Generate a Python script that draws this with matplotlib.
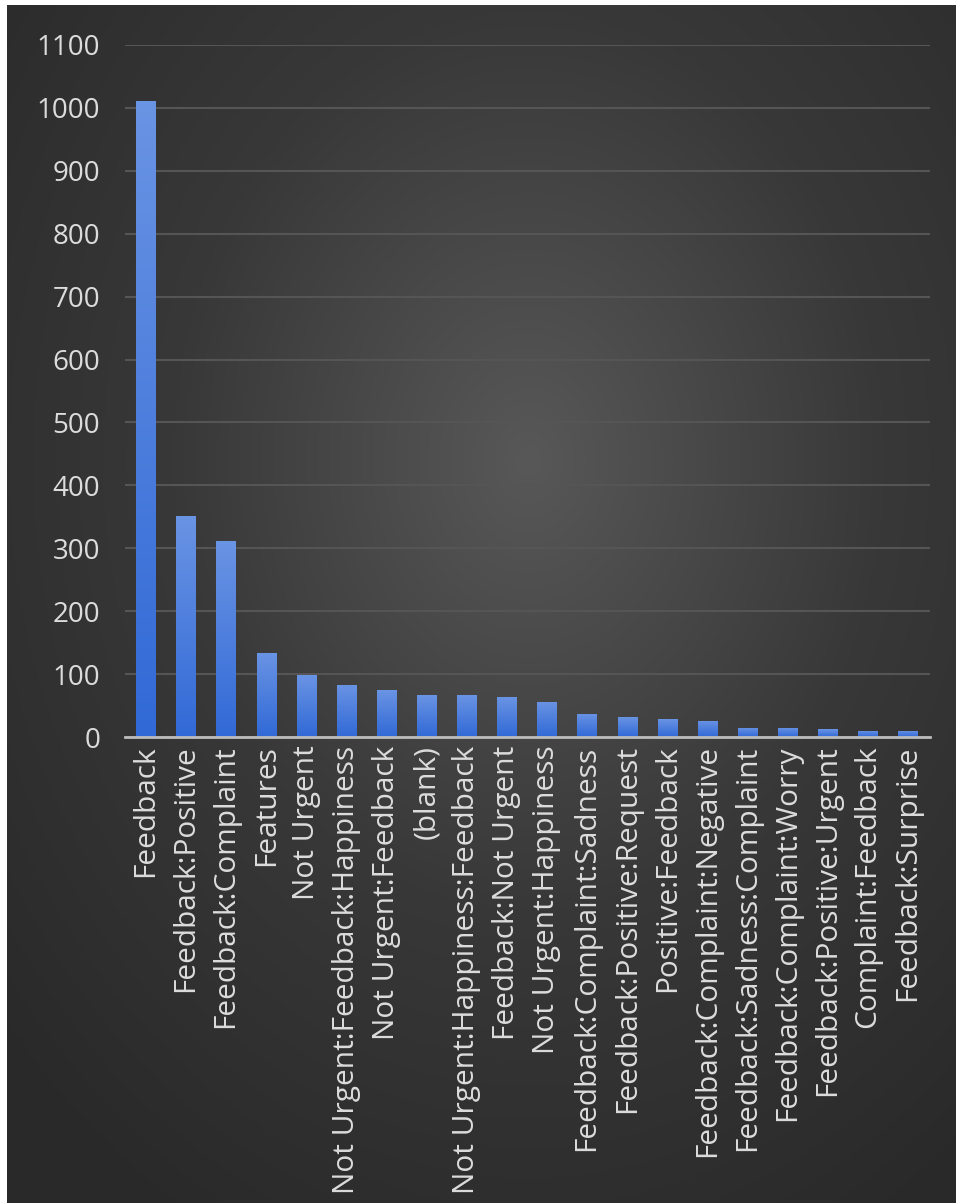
import numpy as np
import matplotlib
matplotlib.use("Agg")
import matplotlib.pyplot as plt
from matplotlib.colors import LinearSegmentedColormap

categories = ["Feedback", "Feedback:Positive", "Feedback:Complaint", "Features",
              "Not Urgent", "Not Urgent:Feedback:Happiness", "Not Urgent:Feedback",
              "(blank)", "Not Urgent:Happiness:Feedback", "Feedback:Not Urgent",
              "Not Urgent:Happiness", "Feedback:Complaint:Sadness",
              "Feedback:Positive:Request", "Positive:Feedback",
              "Feedback:Complaint:Negative", "Feedback:Sadness:Complaint",
              "Feedback:Complaint:Worry", "Feedback:Positive:Urgent",
              "Complaint:Feedback", "Feedback:Surprise"]
counts = [1011, 352, 311, 134, 98, 83, 74, 66, 66, 63, 56, 37, 31, 28, 26,
          15, 15, 12, 10, 10]
y_ticks = list(range(0, 1101, 100))

W, H = 956, 1203
fig = plt.figure(figsize=(W / 100, H / 100), dpi=100, facecolor="white")

# radial gradient background (thin white strip on top/left like the screenshot)
bg = fig.add_axes([7 / W, 0, 1 - 7 / W, 1 - 5 / H])
bg.set_axis_off()
yy, xx = np.mgrid[0:1:400j, 0:1:320j]
r = np.sqrt(((xx - 0.55) / 0.75) ** 2 + ((yy - 0.38) / 0.75) ** 2)
grad = np.clip(r, 0, 1)
bg_cmap = LinearSegmentedColormap.from_list("bg", ["#585858", "#383838", "#292929"])
bg.imshow(grad, cmap=bg_cmap, aspect="auto", extent=[0, 1, 1, 0], vmin=0, vmax=1)
bg.set_xlim(0, 1)
bg.set_ylim(1, 0)

ax = fig.add_axes([125 / W, 1 - 737 / H, (930 - 125) / W, (737 - 45) / H])
ax.patch.set_alpha(0)

x = np.arange(len(categories))
bars = ax.bar(x, counts, width=0.48, color="#4a7ede", zorder=3)

# vertical gradient on each bar
bar_cmap = LinearSegmentedColormap.from_list("bar", ["#3169d6", "#6a94e4"])
grad_v = np.linspace(0, 1, 256).reshape(-1, 1)
for b in bars:
    x0, w, h = b.get_x(), b.get_width(), b.get_height()
    im = ax.imshow(grad_v, cmap=bar_cmap, aspect="auto", origin="lower",
                   extent=[x0, x0 + w, 0, h], zorder=4)
    im.set_clip_path(b)

ax.set_xlim(-0.52, 19.55)
ax.set_ylim(0, 1100)
ax.set_yticks(y_ticks)
ax.set_xticks(x)
ax.set_xticklabels(categories, rotation=90)
ax.yaxis.grid(True, color="#555555", linewidth=1.5, zorder=0)
ax.set_axisbelow(True)
for s in ["top", "right", "left"]:
    ax.spines[s].set_visible(False)
ax.spines["bottom"].set_color("#bcbcbc")
ax.spines["bottom"].set_linewidth(2)
ax.spines["bottom"].set_zorder(5)
ax.tick_params(axis="both", length=0, colors="#dcdcdc")
ax.tick_params(axis="y", pad=18, labelsize=20)
ax.tick_params(axis="x", pad=6, labelsize=21.5)
for lab in ax.get_xticklabels() + ax.get_yticklabels():
    lab.set_fontfamily("Open Sans")

fig.savefig("out.png", dpi=100, facecolor=fig.get_facecolor())
